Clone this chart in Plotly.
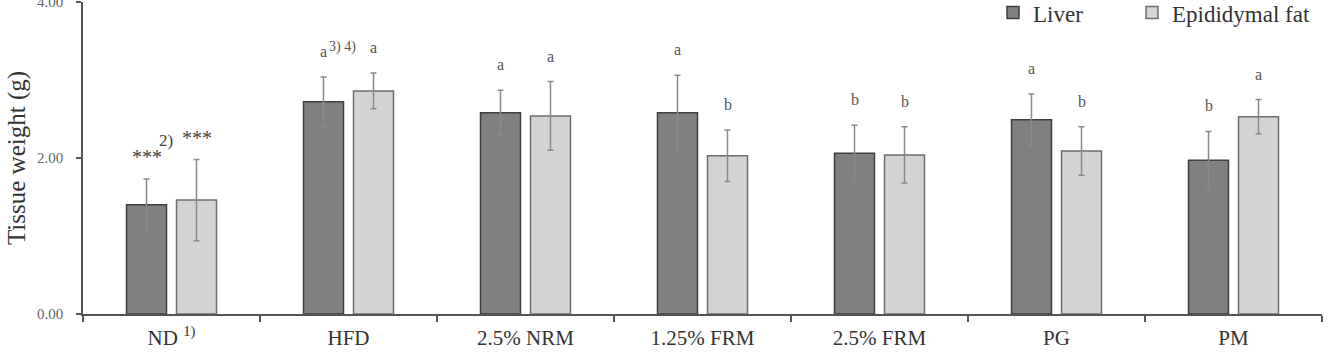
import plotly.graph_objects as go

categories = ["ND", "HFD", "2.5% NRM", "1.25% FRM", "2.5% FRM", "PG", "PM"]
tick_labels = ["ND <sup>1)</sup>", "HFD", "2.5% NRM", "1.25% FRM", "2.5% FRM", "PG", "PM"]
liver = [1.40, 2.72, 2.58, 2.58, 2.06, 2.49, 1.97]
liver_err = [0.33, 0.32, 0.29, 0.48, 0.36, 0.33, 0.37]
fat = [1.46, 2.86, 2.54, 2.03, 2.04, 2.09, 2.53]
fat_err = [0.52, 0.23, 0.44, 0.33, 0.36, 0.31, 0.22]
liver_letters = ["***", "a", "a", "a", "b", "a", "b"]
fat_letters = ["***", "a", "a", "b", "b", "b", "a"]
liver_sup = ["", "3) 4)", "", "", "", "", ""]
fat_pre = ["2)", "", "", "", "", "", ""]

SERIF = "Liberation Serif, Times New Roman, serif"

fig = go.Figure()
fig.add_trace(go.Bar(
    name="Liver", x=categories, y=liver, legend="legend",
    marker=dict(color="#808080", line=dict(color="#3f3f3f", width=1.5)),
    error_y=dict(type="data", array=liver_err, color="#8a8a8a", thickness=1.5, width=3),
))
fig.add_trace(go.Bar(
    name="Epididymal fat", x=categories, y=fat, legend="legend2",
    marker=dict(color="#d3d3d3", line=dict(color="#6e6e6e", width=1.5)),
    error_y=dict(type="data", array=fat_err, color="#8a8a8a", thickness=1.5, width=3),
))

OFF = 25  # half slot width in px
annotations = []
for i, c in enumerate(categories):
    for vals, errs, lets, sign in ((liver, liver_err, liver_letters, -1), (fat, fat_err, fat_letters, 1)):
        txt = lets[i]
        star = txt == "***"
        annotations.append(dict(
            x=c, y=vals[i] + errs[i], xref="x", yref="y",
            text=txt, showarrow=False, xanchor="center", yanchor="bottom",
            xshift=sign * OFF, yshift=9 if star else 15,
            font=dict(family=SERIF, size=20 if star else 16, color="#444" if star else "#555"),
        ))
    if liver_sup[i]:
        annotations.append(dict(
            x=c, y=liver[i] + liver_err[i], xref="x", yref="y",
            text="<sup>" + liver_sup[i] + "</sup>", showarrow=False,
            xanchor="left", yanchor="bottom", xshift=-OFF + 3, yshift=20,
            font=dict(family=SERIF, size=20, color="#555"),
        ))
    if fat_pre[i]:
        annotations.append(dict(
            x=c, y=fat[i] + fat_err[i], xref="x", yref="y",
            text=fat_pre[i], showarrow=False,
            xanchor="right", yanchor="bottom", xshift=OFF - 22, yshift=8,
            font=dict(family=SERIF, size=17, color="#444"),
        ))

leg_common = dict(
    orientation="h", xanchor="left", xref="container",
    y=1.035, yanchor="top", yref="paper",
    font=dict(family=SERIF, size=23, color="#333"),
    itemwidth=30, bgcolor="rgba(0,0,0,0)",
)

fig.update_layout(
    width=1330, height=354,
    margin=dict(l=83, r=8, t=2, b=40, autoexpand=False),
    paper_bgcolor="white", plot_bgcolor="white",
    barmode="group", bargap=0.435, bargroupgap=0.2,
    font=dict(family=SERIF, color="#333"),
    showlegend=True,
    legend=dict(x=993 / 1330, **leg_common),
    legend2=dict(x=1132 / 1330, **leg_common),
    annotations=annotations,
)
fig.update_xaxes(
    type="category", tickmode="array", tickvals=categories, ticktext=tick_labels,
    showline=True, linecolor="#555", linewidth=1.5,
    ticks="outside", tickson="boundaries", ticklen=6, tickcolor="#555", tickwidth=1.5,
    tickfont=dict(family=SERIF, size=21, color="#333"), ticklabelstandoff=4,
    showgrid=False, zeroline=False,
)
fig.update_yaxes(
    range=[0, 4], tickvals=[0, 2, 4], tickformat=".2f",
    showline=True, linecolor="#555", linewidth=1.5,
    ticks="outside", ticklen=5, tickcolor="#555", tickwidth=1.5,
    tickfont=dict(family=SERIF, size=15, color="#666"), ticklabelstandoff=10,
    ticklabeloverflow="allow",
    showgrid=False, zeroline=False,
    title=dict(text="Tissue weight (g)", font=dict(family=SERIF, size=25, color="#333"), standoff=4),
)

fig.write_html("out.html")
